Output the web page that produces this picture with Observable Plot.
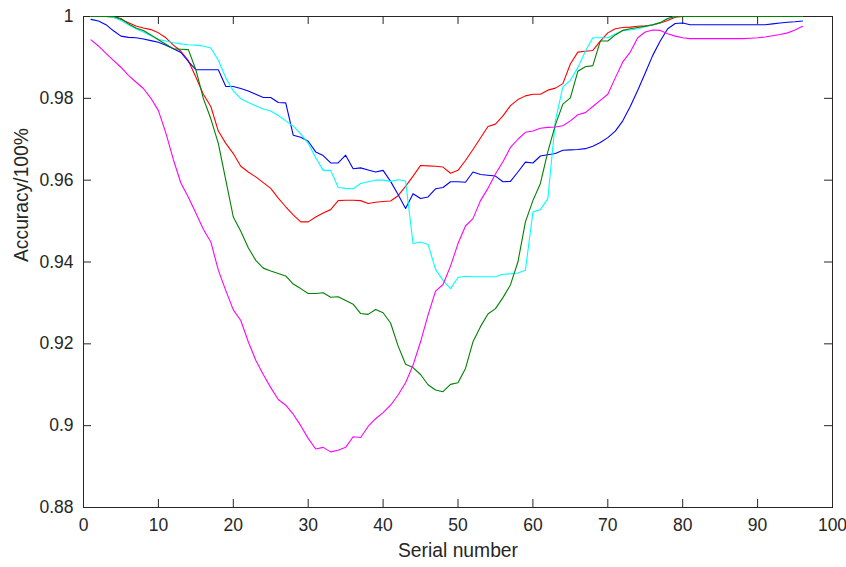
<!DOCTYPE html>
<html>
<head>
<meta charset="utf-8">
<script src="https://cdn.jsdelivr.net/npm/d3@7"></script>
<script src="https://cdn.jsdelivr.net/npm/@observablehq/plot@0.6"></script>
<style>
  html, body { margin: 0; padding: 0; background: #fff; }
</style>
</head>
<body>
<div id="chart"></div>
<script>
const serial = d3.range(1, 97);

const red = [1.0, 1.0, 1.0, 0.9998, 0.9993, 0.9985, 0.9977, 0.9972, 0.9968, 0.996,
 0.9948, 0.993, 0.9915, 0.9892, 0.9852, 0.981, 0.978, 0.972, 0.969, 0.9665,
 0.9634, 0.962, 0.9608, 0.9594, 0.958, 0.9556, 0.9535, 0.9515, 0.9498, 0.9498,
 0.951, 0.952, 0.9528, 0.955, 0.9551, 0.9551, 0.955, 0.9543, 0.9546, 0.9548,
 0.9549, 0.9562, 0.9585, 0.961, 0.9636, 0.9635, 0.9634, 0.9632, 0.9617, 0.9624,
 0.9648, 0.9675, 0.9703, 0.9731, 0.9737, 0.9757, 0.9782, 0.9797, 0.9806, 0.981,
 0.981, 0.982, 0.9825, 0.9836, 0.9884, 0.9913, 0.9915, 0.9917, 0.994, 0.996,
 0.997, 0.9973, 0.9974, 0.9976, 0.9977, 0.9979, 0.9984, 0.999, 0.9998, 1.0,
 1.0, 1.0, 1.0, 1.0, 1.0, 1.0, 1.0, 1.0, 1.0, 1.0, 1.0, 1.0, 1.0, 1.0, 1.0, 1.0];

const blue = [0.9993, 0.9989, 0.998, 0.9965, 0.9952, 0.9949, 0.9948, 0.9945, 0.9941, 0.9937,
 0.993, 0.9921, 0.9912, 0.989, 0.987, 0.987, 0.987, 0.987, 0.9829, 0.9829,
 0.9824, 0.9818, 0.981, 0.9802, 0.9802, 0.979, 0.9789, 0.971, 0.9705, 0.9695,
 0.9669, 0.966, 0.9642, 0.9642, 0.9661, 0.9628, 0.963, 0.9625, 0.962, 0.9624,
 0.9597, 0.9565, 0.9531, 0.9567, 0.9555, 0.9559, 0.9579, 0.9582, 0.9596, 0.9596,
 0.9595, 0.962, 0.9614, 0.9612, 0.961, 0.9596, 0.9597, 0.962, 0.9644, 0.9642,
 0.9659, 0.9662, 0.9665, 0.9673, 0.9674, 0.9675, 0.9677, 0.9683, 0.9692, 0.9704,
 0.972, 0.9745, 0.978, 0.982, 0.9862, 0.9905, 0.994, 0.997, 0.9983, 0.9984,
 0.998, 0.998, 0.998, 0.998, 0.998, 0.998, 0.998, 0.998, 0.998, 0.998,
 0.998, 0.9982, 0.9984, 0.9986, 0.9987, 0.9989];

const green = [1.0, 1.0, 1.0, 1.0, 0.9995, 0.9982, 0.9972, 0.9966, 0.9955, 0.9943,
 0.9932, 0.9921, 0.992, 0.9919, 0.987, 0.98, 0.975, 0.969, 0.960, 0.951,
 0.9475, 0.9435, 0.9404, 0.9385, 0.9378, 0.9372, 0.9366, 0.9346, 0.9335, 0.9323,
 0.9323, 0.9325, 0.9314, 0.9315, 0.9306, 0.9297, 0.9274, 0.9272, 0.9284, 0.9276,
 0.9251, 0.9195, 0.915, 0.9142, 0.9125, 0.91, 0.9087, 0.9083, 0.9101, 0.9105,
 0.914, 0.9205, 0.9242, 0.9273, 0.9286, 0.9313, 0.9344, 0.940, 0.9498, 0.955,
 0.9592, 0.967, 0.9735, 0.9786, 0.9801, 0.9866, 0.9877, 0.988, 0.994, 0.994,
 0.9955, 0.9966, 0.997, 0.9973, 0.9976, 0.998, 0.9985, 0.9995, 1.0, 1.0,
 1.0, 1.0, 1.0, 1.0, 1.0, 1.0, 1.0, 1.0, 1.0, 1.0, 1.0, 1.0, 1.0, 1.0, 1.0, 1.0];

const cyan = [1.0, 1.0, 1.0, 0.9998, 0.999, 0.998, 0.997, 0.9962, 0.9953, 0.9944,
 0.994, 0.9936, 0.9933, 0.9931, 0.993, 0.9928, 0.9923, 0.9893, 0.985, 0.9818,
 0.9799, 0.979, 0.9782, 0.9774, 0.9769, 0.9758, 0.9745, 0.9732, 0.9713, 0.969,
 0.9655, 0.9624, 0.9624, 0.9582, 0.958, 0.9579, 0.9592, 0.9596, 0.96, 0.96,
 0.9597, 0.9601, 0.9598, 0.9445, 0.9449, 0.9443, 0.9382, 0.9355, 0.9335, 0.9362,
 0.9365, 0.9364, 0.9364, 0.9364, 0.9364, 0.937, 0.9371, 0.9373, 0.938, 0.9522,
 0.9528, 0.9555, 0.9745, 0.9828, 0.9844, 0.9875, 0.9915, 0.9948, 0.9948, 0.9948,
 0.9957, 0.9966, 0.9967, 0.997, 0.9975, 0.998, 0.9985, 0.9995, 1.0, 1.0,
 1.0, 1.0, 1.0, 1.0, 1.0, 1.0, 1.0, 1.0, 1.0, 1.0, 1.0, 1.0, 1.0, 1.0, 1.0, 1.0];

const magenta = [0.9943, 0.9928, 0.991, 0.9893, 0.9876, 0.9856, 0.984, 0.9824, 0.980, 0.977,
 0.9715, 0.965, 0.9593, 0.9558, 0.952, 0.948, 0.9449, 0.938, 0.933, 0.9283,
 0.9257, 0.9205, 0.916, 0.9125, 0.9093, 0.9064, 0.905, 0.9028, 0.9, 0.8969,
 0.8943, 0.8947, 0.8936, 0.894, 0.8947, 0.8973, 0.8971, 0.8998, 0.9017, 0.9032,
 0.905, 0.9075, 0.9105, 0.9148, 0.9205, 0.927, 0.9329, 0.9345, 0.939, 0.9445,
 0.9488, 0.9506, 0.955, 0.958, 0.9615, 0.9645, 0.968, 0.970, 0.9717, 0.972,
 0.9727, 0.9729, 0.973, 0.9733, 0.9745, 0.976, 0.9765, 0.978, 0.9795, 0.981,
 0.985, 0.9889, 0.9913, 0.9948, 0.9962, 0.9967, 0.9966, 0.9958, 0.9952, 0.9948,
 0.9946, 0.9946, 0.9946, 0.9946, 0.9946, 0.9946, 0.9946, 0.9946, 0.9947, 0.9948,
 0.995, 0.9953, 0.9956, 0.996, 0.9967, 0.9976];

// drawing order: later series are drawn on top
const seriesNames = ["red", "blue", "cyan", "green", "magenta"];
const seriesValues = [red, blue, cyan, green, magenta];
const seriesColors = ["#ff0000", "#0000ff", "#12c0c0", "#008000", "#f010f0"];

const xTicks = [0, 10, 20, 30, 40, 50, 60, 70, 80, 90, 100];
const yTicks = [0.88, 0.9, 0.92, 0.94, 0.96, 0.98, 1];
const xLabel = "Serial number";
const yLabel = "Accuracy/100%";

const rows = seriesNames.flatMap((name, k) =>
  serial.map((s, i) => ({series: name, x: s, y: seriesValues[k][i]}))
);

const W = 846, H = 567;
const mL = 83, mR = 14, mT = 16, mB = 60;
const pw = W - mL - mR, ph = H - mT - mB;
const tick = 8;
const ink = "#262626";
const font = "'Liberation Sans', Arial, Helvetica, sans-serif";

const chart = Plot.plot({
  width: W,
  height: H,
  marginLeft: mL,
  marginRight: mR,
  marginTop: mT,
  marginBottom: mB,
  style: {fontFamily: font, background: "#fff", color: ink, overflow: "visible"},
  x: {domain: [0, 100]},
  y: {domain: [0.88, 1]},
  color: {domain: seriesNames, range: seriesColors},
  marks: [
    Plot.frame({stroke: ink, strokeWidth: 1}),
    Plot.tickX(xTicks, {x: d => d, stroke: ink, insetTop: ph - tick}),
    Plot.tickX(xTicks, {x: d => d, stroke: ink, insetBottom: ph - tick}),
    Plot.tickY(yTicks, {y: d => d, stroke: ink, insetRight: pw - tick}),
    Plot.tickY(yTicks, {y: d => d, stroke: ink, insetLeft: pw - tick}),
    Plot.axisX({ticks: xTicks, tickSize: 0, tickPadding: 11, fontSize: 17.5, label: null, tickFormat: d => String(d), fill: ink}),
    Plot.axisY({ticks: yTicks, tickSize: 0, tickPadding: 10, fontSize: 17.5, label: null, tickFormat: d => String(+d.toFixed(2)), fill: ink}),
    Plot.lineY(rows, {x: "x", y: "y", z: "series", stroke: "series", strokeWidth: 1.1}),
    Plot.text([xLabel], {text: d => d, frameAnchor: "bottom", dy: 49, fontSize: 19.3, fill: ink}),
    Plot.text([yLabel], {text: d => d, frameAnchor: "left", rotate: -90, dx: -62, fontSize: 19.3, fill: ink})
  ]
});

document.getElementById("chart").appendChild(chart);
</script>
</body>
</html>
